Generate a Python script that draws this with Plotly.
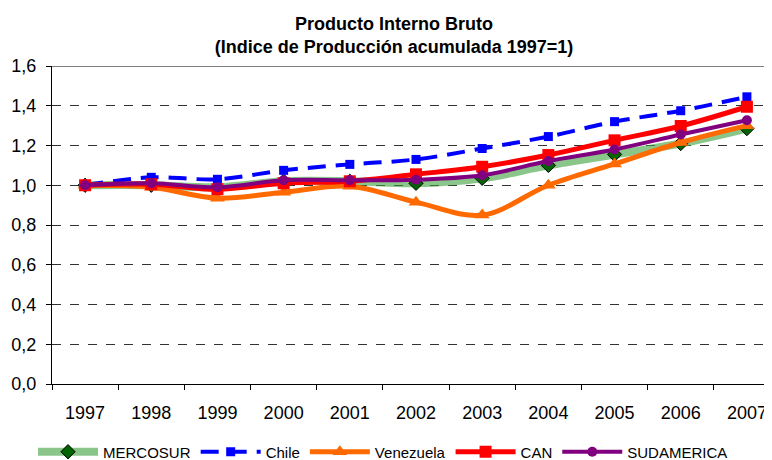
import plotly.graph_objects as go

years = ["1997", "1998", "1999", "2000", "2001", "2002", "2003", "2004", "2005", "2006", "2007"]
mercosur = [1.00, 1.00, 0.99, 1.02, 1.02, 1.01, 1.035, 1.10, 1.155, 1.21, 1.285]
chile = [1.00, 1.04, 1.03, 1.075, 1.105, 1.13, 1.185, 1.245, 1.32, 1.375, 1.445]
venezuela = [1.00, 0.99, 0.935, 0.965, 0.995, 0.915, 0.85, 1.00, 1.107, 1.215, 1.30]
can = [1.00, 1.005, 0.98, 1.01, 1.02, 1.055, 1.093, 1.152, 1.226, 1.298, 1.395]
sudamerica = [1.00, 1.01, 0.99, 1.025, 1.025, 1.028, 1.05, 1.122, 1.18, 1.255, 1.327]

fig = go.Figure()
fig.add_trace(go.Scatter(x=years, y=mercosur, name="MERCOSUR", mode="lines+markers",
                         line=dict(color="rgba(60,160,60,0.6)", width=8, shape="spline"),
                         marker=dict(symbol="diamond", size=11, color="#006400",
                                     line=dict(color="black", width=1))))
fig.add_trace(go.Scatter(x=years, y=chile, name="Chile", mode="lines+markers",
                         line=dict(color="#0000ff", width=4, dash="18px,10px", shape="spline"),
                         marker=dict(symbol="square", size=9, color="#0000ff")))
fig.add_trace(go.Scatter(x=years, y=venezuela, name="Venezuela", mode="lines+markers",
                         line=dict(color="#ff6a00", width=5, shape="spline"),
                         marker=dict(symbol="triangle-up", size=13, color="#ff6a00")))
fig.add_trace(go.Scatter(x=years, y=can, name="CAN", mode="lines+markers",
                         line=dict(color="#ff0000", width=5, shape="spline"),
                         marker=dict(symbol="square", size=12, color="#ff0000")))
fig.add_trace(go.Scatter(x=years, y=sudamerica, name="SUDAMERICA", mode="lines+markers",
                         line=dict(color="#800080", width=4, shape="spline"),
                         marker=dict(symbol="circle", size=10, color="#800080")))

fig.add_shape(type="line", xref="paper", yref="y", x0=0, x1=1, y0=1.6, y1=1.6,
              line=dict(color="#808080", width=2))

fig.update_layout(
    width=772, height=460,
    margin=dict(l=44, r=0, t=58, b=84, autoexpand=False),
    paper_bgcolor="white", plot_bgcolor="white",
    separators=",.",
    font=dict(family="Liberation Sans, Arial, sans-serif", size=18, color="black"),
    title=dict(text="<b>Producto Interno Bruto</b><br><b>(Indice de Producción acumulada 1997=1)</b>",
               x=0.500, xanchor="center", y=0.953, yanchor="middle", yref="container",
               font=dict(family="Liberation Sans, Arial", size=18, color="black")),
    showlegend=True,
    legend=dict(orientation="h", xref="container", x=0.0324, xanchor="left",
                yref="container", y=0.0348, yanchor="middle",
                bgcolor="rgba(0,0,0,0)",
                font=dict(family="Liberation Sans, Arial", size=15),
                itemwidth=60, tracegroupgap=0),
    xaxis=dict(type="category", range=[-0.5, 10.5], tickson="boundaries",
               ticks="outside", ticklen=5, tickcolor="black", showline=True,
               linecolor="black", linewidth=1, showgrid=False, ticklabelstandoff=12),
    yaxis=dict(range=[0, 1.6], dtick=0.2, tickformat=".1f", ticks="outside", ticklen=5,
               tickcolor="black", showline=True, linecolor="black", linewidth=1,
               showgrid=True, gridcolor="#333333", griddash="dash", gridwidth=1,
               zeroline=False, ticklabelstandoff=6),
)

fig.write_html("out.html")
